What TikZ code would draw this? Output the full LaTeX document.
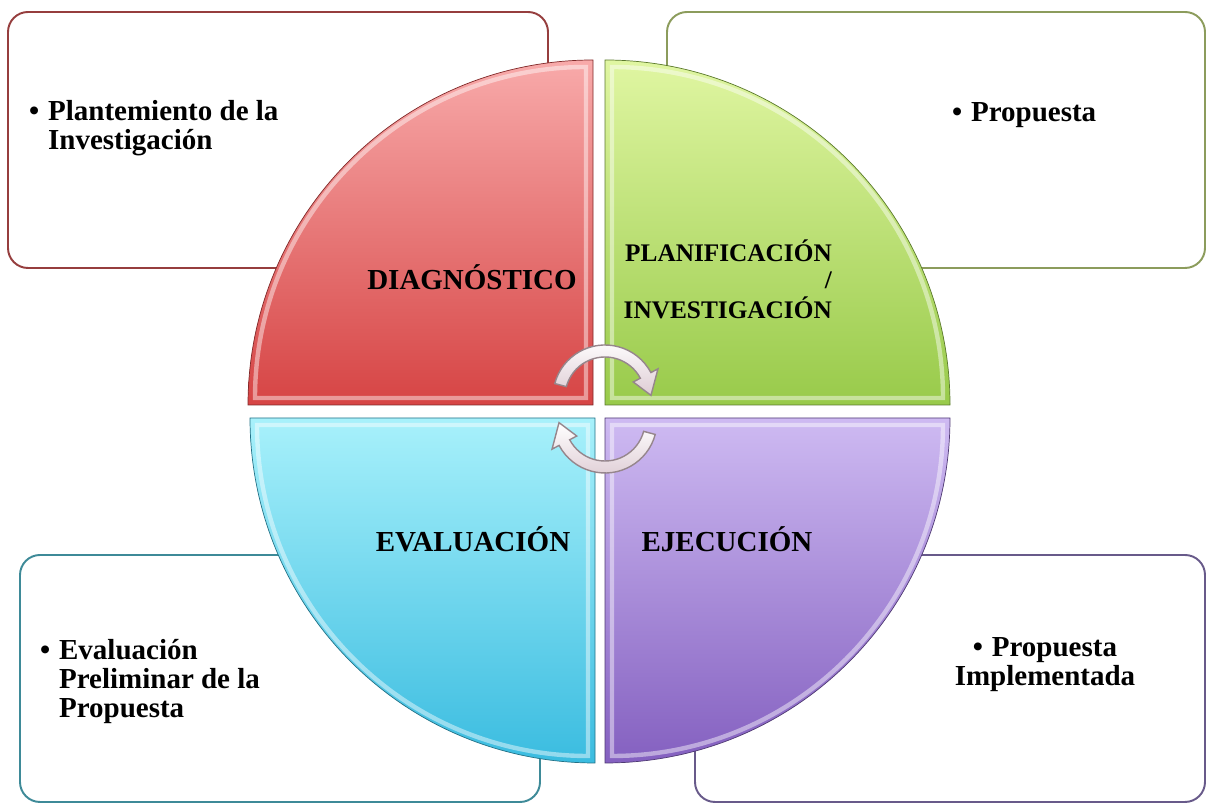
\documentclass[tikz,border=0pt]{standalone}
\usepackage{fontspec}
\setmainfont{Liberation Serif}
\usepackage{tikz}

\definecolor{diagtop}{RGB}{248,170,170}
\definecolor{diagbot}{RGB}{214,68,68}
\definecolor{plantop}{RGB}{224,246,162}
\definecolor{planbot}{RGB}{152,202,74}
\definecolor{evaltop}{RGB}{168,241,251}
\definecolor{evalbot}{RGB}{58,188,224}
\definecolor{ejectop}{RGB}{206,186,242}
\definecolor{ejecbot}{RGB}{132,96,192}
\definecolor{bordediag}{RGB}{150,62,62}
\definecolor{bordeplan}{RGB}{140,156,92}
\definecolor{bordeeval}{RGB}{62,138,152}
\definecolor{bordeejec}{RGB}{104,90,138}
\definecolor{flecha}{RGB}{222,204,212}
\definecolor{flechaborde}{RGB}{150,134,140}

\begin{document}
\begin{tikzpicture}[x=0.02cm,y=0.02cm,
	caja/.style={rounded corners=0.4cm, line width=1.1pt, fill=white},
	brillo/.style={draw=white, opacity=0.45, line width=2.5pt},
	fase/.style={font=\fontsize{16.5}{18}\selectfont\bfseries},
	punto/.style={font=\fontsize{16.5}{16.5}\selectfont\bfseries},
	giro/.style={top color=white, bottom color=flecha, draw=flechaborde, line width=0.8pt}]
	\useasboundingbox (0,0) rectangle (1207,807);
	% cajas de resultados
	\draw[caja, draw=bordediag] (8,795) rectangle (548,539);
	\draw[caja, draw=bordeplan] (667,795) rectangle (1205,539);
	\draw[caja, draw=bordeeval] (20,252) rectangle (540,5);
	\draw[caja, draw=bordeejec] (695,252) rectangle (1205,5);
	% cuadrantes del ciclo
	\shadedraw[top color=diagtop, bottom color=diagbot, draw=diagbot!60!black] (593,402) -- (248,402) arc[start angle=180, end angle=90, radius=345] -- cycle;
	\draw[brillo] (586,409) -- (255,409) arc[start angle=180, end angle=90, radius=331] -- cycle;
	\shadedraw[top color=plantop, bottom color=planbot, draw=planbot!60!black] (605,402) -- (605,747) arc[start angle=90, end angle=0, radius=345] -- cycle;
	\draw[brillo] (612,409) -- (612,740) arc[start angle=90, end angle=0, radius=331] -- cycle;
	\shadedraw[top color=evaltop, bottom color=evalbot, draw=evalbot!60!black] (595,389) -- (250,389) arc[start angle=180, end angle=270, radius=345] -- cycle;
	\draw[brillo] (588,382) -- (257,382) arc[start angle=180, end angle=270, radius=331] -- cycle;
	\shadedraw[top color=ejectop, bottom color=ejecbot, draw=ejecbot!60!black] (605,389) -- (950,389) arc[start angle=0, end angle=-90, radius=345] -- cycle;
	\draw[brillo] (612,382) -- (943,382) arc[start angle=0, end angle=-90, radius=331] -- cycle;
	% flechas del centro
	\begin{scope}[shift={(605,410)}]
		\shadedraw[giro] (165:52) arc[start angle=165, end angle=28, radius=52] -- (28:60) -- (2:46) -- (28:32) -- (28:40) arc[start angle=28, end angle=165, radius=40] -- cycle;
	\end{scope}
	\begin{scope}[shift={(605,386)}, rotate=180]
		\shadedraw[giro] (165:52) arc[start angle=165, end angle=28, radius=52] -- (28:60) -- (2:46) -- (28:32) -- (28:40) arc[start angle=28, end angle=165, radius=40] -- cycle;
	\end{scope}
	% fases
	\node[fase, anchor=base] (diag) at (472,517) {DIAGNÓSTICO};
	\node[font=\fontsize{14.4}{15.3}\selectfont\bfseries, anchor=base east] (plan) at (838,545)
		{\begin{tabular}[t]{@{}r@{}}PLANIFICACIÓN\\/\\INVESTIGACIÓN\end{tabular}};
	\node[fase, anchor=base] (eval) at (473,255) {EVALUACIÓN};
	\node[fase, anchor=base] (ejec) at (727,255) {EJECUCIÓN};
	% resultados
	\node[punto, anchor=base west] (plantea) at (23,686)
		{\begin{tabular}[t]{@{}l@{\hspace{5pt}}l@{}}\textbullet & Plantemiento de la\\ & Investigación\end{tabular}};
	\node[punto, anchor=base west] (propuesta) at (946,685) {\textbullet\hspace{5pt}Propuesta};
	\node[punto, anchor=base west] (preliminar) at (34,147)
		{\begin{tabular}[t]{@{}l@{\hspace{5pt}}l@{}}\textbullet & Evaluación\\ & Preliminar de la\\ & Propuesta\end{tabular}};
	\node[font=\fontsize{16.5}{15}\selectfont\bfseries, anchor=base] (implementada) at (1045,150)
		{\begin{tabular}[t]{@{}c@{}}\textbullet\hspace{5pt}Propuesta\\Implementada\end{tabular}};
\end{tikzpicture}
\end{document}
